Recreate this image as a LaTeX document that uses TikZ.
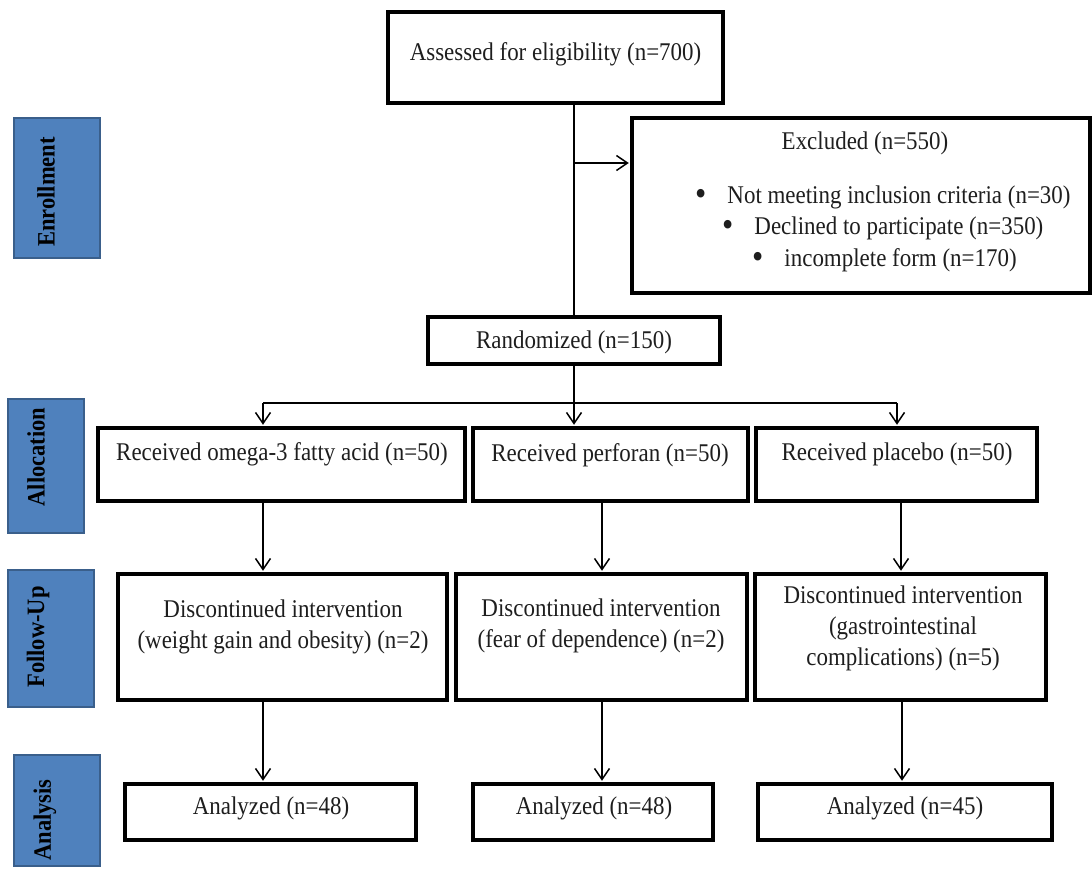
\documentclass[tikz,border=0pt]{standalone}
\usepackage{fontspec}
\setmainfont{Liberation Serif}[FakeStretch=0.9]
\usetikzlibrary{arrows.meta}
\definecolor{sideblue}{HTML}{4F81BD}
\definecolor{sideborder}{HTML}{3A5F8B}
\definecolor{textgray}{HTML}{1E1E1E}
\newcommand{\bigbul}{\raisebox{-2.5pt}{\scalebox{1.4}{\textbullet}}}
\begin{document}
\begin{tikzpicture}[x=1pt,y=-1pt,
  box/.style={draw=black, line width=3.5pt, fill=white, inner sep=0pt},
  side/.style={draw=sideborder, fill=sideblue, line width=2.2pt, inner sep=0pt},
  sidetxt/.style={rotate=90, font=\fontsize{25}{30}\selectfont\bfseries, text=black, inner sep=0pt},
  txt/.style={font=\fontsize{25.5}{31}\selectfont, text=textgray, align=center, inner sep=0pt},
  conn/.style={line width=1.5pt, draw=black},
  arr/.style={conn, shorten >=1.5pt, -{Straight Barb[length=11pt,width=15pt,line width=1.5pt]}},
]
\useasboundingbox (0,0) rectangle (1092,868);
\fill[white] (0,0) rectangle (1092,868);

% side labels
\node[side, minimum width=86pt, minimum height=140pt] (enr) at (57,188) {};
\node[side, minimum width=76pt, minimum height=134pt] (alc) at (46,466) {};
\node[side, minimum width=86pt, minimum height=137pt] (fol) at (51,638.5) {};
\node[side, minimum width=86pt, minimum height=111pt] (ana) at (57,810.5) {};
\node[sidetxt] (enrt) at (46,192) {Enrollment};
\node[sidetxt] (alct) at (36,457) {Allocation};
\node[sidetxt] (folt) at (38,637) {Follow-Up};
\node[sidetxt] (anat) at (45,820) {Analysis};

% boxes
\node[box, minimum width=335pt, minimum height=91pt] (assess) at (555.5,57.5) {};
\node[box, minimum width=458pt, minimum height=175pt] (excl) at (861,205.5) {};
\node[box, minimum width=292pt, minimum height=47pt] (rand) at (574,340.5) {};
\node[box, minimum width=367pt, minimum height=73pt] (a1) at (281.5,464.5) {};
\node[box, minimum width=275pt, minimum height=73pt] (a2) at (610.5,464.5) {};
\node[box, minimum width=281pt, minimum height=73pt] (a3) at (896.5,464.5) {};
\node[box, minimum width=329pt, minimum height=126pt] (f1) at (282.5,637) {};
\node[box, minimum width=291pt, minimum height=126pt] (f2) at (601.5,637) {};
\node[box, minimum width=291pt, minimum height=126pt] (f3) at (900.5,637) {};
\node[box, minimum width=291pt, minimum height=56pt] (n1) at (270.5,812) {};
\node[box, minimum width=240pt, minimum height=56pt] (n2) at (593,812) {};
\node[box, minimum width=294pt, minimum height=56pt] (n3) at (905,812) {};

% texts
\node[txt] (assesst) at (555.5,54) {Assessed for eligibility (n=700)};
\node[txt] (exclt) at (865,143) {Excluded (n=550)};
\node[txt, anchor=west] (exb1) at (695,197) {\bigbul\hspace{21pt}Not meeting inclusion criteria (n=30)};
\node[txt, anchor=west] (exb2) at (722,228) {\bigbul\hspace{21pt}Declined to participate (n=350)};
\node[txt, anchor=west] (exb3) at (752,260) {\bigbul\hspace{21pt}incomplete form (n=170)};
\node[txt] (randt) at (574,342) {Randomized (n=150)};
\node[txt] (a1t) at (282,454) {Received omega-3 fatty acid (n=50)};
\node[txt] (a2t) at (610,455) {Received perforan (n=50)};
\node[txt] (a3t) at (897,454) {Received placebo (n=50)};
\node[txt] (f1t) at (283,627) {Discontinued intervention\\(weight gain and obesity) (n=2)};
\node[txt] (f2t) at (601,626) {Discontinued intervention\\(fear of dependence) (n=2)};
\node[txt] (f3t) at (903,628) {Discontinued intervention\\(gastrointestinal\\complications) (n=5)};
\node[txt] (n1t) at (271,808) {Analyzed (n=48)};
\node[txt] (n2t) at (594,808) {Analyzed (n=48)};
\node[txt] (n3t) at (905,808) {Analyzed (n=45)};

% connectors
\draw[conn] (rand.north |- assess.south) -- (rand.north);
\coordinate (exclin) at (574,163);
\draw[arr] (exclin) -- (exclin -| excl.west);
\draw[arr] (rand.south) -- (rand.south |- a2.north);
\coordinate (bl) at (263,403);
\coordinate (br) at (897,403);
\draw[conn] (bl) -- (br);
\draw[arr] (bl) -- (bl |- a1.north);
\draw[arr] (br) -- (br |- a3.north);
\coordinate (x1) at (263,0);
\coordinate (x2) at (602,0);
\coordinate (x3) at (901,0);
\coordinate (x4) at (902,0);
\draw[arr] (x1 |- a1.south) -- (x1 |- f1.north);
\draw[arr] (x2 |- a2.south) -- (x2 |- f2.north);
\draw[arr] (x3 |- a3.south) -- (x3 |- f3.north);
\draw[arr] (x1 |- f1.south) -- (x1 |- n1.north);
\draw[arr] (x2 |- f2.south) -- (x2 |- n2.north);
\draw[arr] (x4 |- f3.south) -- (x4 |- n3.north);
\end{tikzpicture}
\end{document}
